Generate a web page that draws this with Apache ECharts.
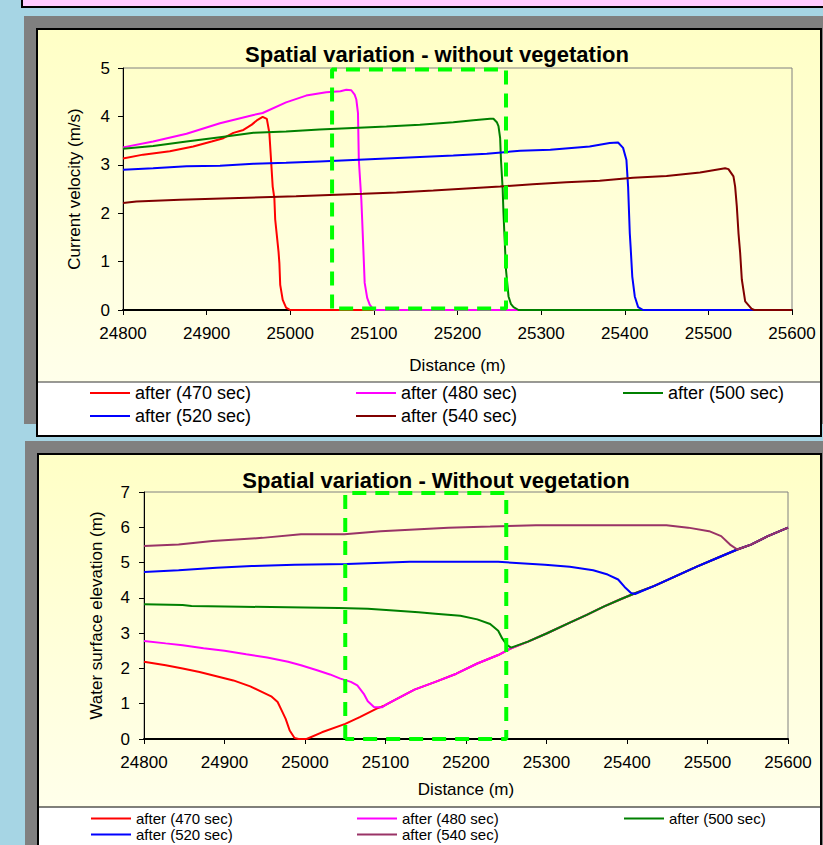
<!DOCTYPE html>
<html>
<head>
<meta charset="utf-8">
<script src="https://cdn.jsdelivr.net/npm/echarts@6/dist/echarts.min.js"></script>
<style>
html,body{margin:0;padding:0;background:#A6D5E4;}
#c{width:823px;height:845px;}
</style>
</head>
<body>
<div id="c"></div>
<script>
// ---------- data ----------
const seriesNames = ['after (470 sec)', 'after (480 sec)', 'after (500 sec)', 'after (520 sec)', 'after (540 sec)'];
const distanceTicks = [24800, 24900, 25000, 25100, 25200, 25300, 25400, 25500, 25600];

// Chart 1: current velocity (m/s) vs distance (m)
const vel470 = [[24800,3.13],[24824,3.21],[24856,3.28],[24884,3.38],[24906,3.48],[24920,3.55],[24932,3.66],[24944,3.72],[24954,3.83],[24961,3.93],[24967,3.99],[24972,3.95],[24975,3.66],[24977,3.11],[24979,2.55],[24981,2.31],[24982,1.87],[24986,1.2],[24987,0.97],[24988,0.52],[24991,0.21],[24995,0.05],[25000,0],[25600,0]];
const vel480 = [[24800,3.36],[24836,3.48],[24876,3.64],[24916,3.86],[24956,4.03],[24967,4.07],[24995,4.29],[25019,4.43],[25043,4.50],[25060,4.52],[25067,4.55],[25073,4.54],[25077,4.45],[25079,4.35],[25081,4.07],[25082,3.1],[25085,2.28],[25086,1.87],[25088,1.0],[25089,0.56],[25092,0.25],[25095,0.11],[25100,0],[25600,0]];
const vel500 = [[24800,3.33],[24836,3.39],[24876,3.48],[24916,3.57],[24956,3.66],[24995,3.69],[25035,3.73],[25075,3.76],[25115,3.79],[25155,3.83],[25195,3.88],[25219,3.92],[25239,3.95],[25243,3.95],[25247,3.88],[25249,3.80],[25251,3.55],[25252,3.1],[25254,2.5],[25255,2.0],[25256,1.6],[25258,0.83],[25261,0.28],[25264,0.12],[25267,0.06],[25273,0],[25600,0]];
const vel520 = [[24800,2.90],[24836,2.93],[24876,2.97],[24916,2.98],[24956,3.02],[24995,3.04],[25035,3.07],[25075,3.10],[25115,3.13],[25155,3.16],[25195,3.19],[25235,3.23],[25275,3.29],[25311,3.31],[25358,3.38],[25382,3.45],[25392,3.46],[25398,3.35],[25402,3.10],[25404,2.55],[25406,1.59],[25407,1.31],[25409,0.69],[25412,0.28],[25416,0.06],[25422,0],[25600,0]];
const vel540 = [[24800,2.21],[24816,2.24],[24868,2.28],[24928,2.31],[25007,2.35],[25087,2.40],[25127,2.43],[25171,2.47],[25211,2.51],[25251,2.55],[25290,2.60],[25330,2.64],[25370,2.67],[25410,2.73],[25450,2.77],[25490,2.84],[25520,2.93],[25524,2.91],[25530,2.76],[25532,2.55],[25534,2.14],[25536,1.59],[25538,1.18],[25540,0.63],[25544,0.18],[25552,0.02],[25555,0],[25600,0]];
const vegZoneVel = [[25050,0.03],[25050,4.97],[25258,4.97],[25258,0.03],[25050,0.03]];

// Chart 2: water surface elevation (m) vs distance (m)
const bedLine = [[25002,0],[25021,0.19],[25050,0.43],[25068,0.62],[25089,0.86],[25099,0.95],[25110,1.09],[25136,1.40],[25162,1.62],[25188,1.85],[25214,2.14],[25240,2.38],[25256,2.57],[25277,2.76],[25300,2.99],[25329,3.30],[25350,3.52],[25371,3.75],[25392,3.96],[25410,4.13],[25434,4.34],[25460,4.61],[25486,4.88],[25512,5.13],[25537,5.37],[25554,5.51],[25575,5.75],[25600,5.99]];
const elev470 = [[24800,2.19],[24827,2.09],[24848,2.00],[24869,1.90],[24890,1.78],[24911,1.66],[24932,1.49],[24947,1.33],[24958,1.21],[24966,1.05],[24971,0.81],[24976,0.57],[24981,0.24],[24987,0.03],[24992,0]];
const elev480 = [[24800,2.78],[24827,2.71],[24848,2.66],[24874,2.57],[24900,2.50],[24927,2.40],[24953,2.31],[24979,2.19],[24995,2.09],[25015,1.95],[25031,1.83],[25044,1.71],[25057,1.62],[25065,1.52],[25073,1.28],[25078,1.07],[25086,0.90],[25096,0.90]];
const elev500 = [[24800,3.82],[24848,3.80],[24859,3.77],[24921,3.75],[25042,3.71],[25078,3.69],[25110,3.64],[25141,3.59],[25162,3.55],[25193,3.49],[25214,3.39],[25230,3.26],[25240,3.07],[25245,2.85],[25251,2.66],[25256,2.59]];
const elev520 = [[24800,4.73],[24843,4.78],[24890,4.85],[24934,4.90],[24987,4.94],[25052,4.96],[25130,5.02],[25240,5.02],[25298,4.94],[25329,4.88],[25358,4.78],[25376,4.66],[25389,4.52],[25397,4.31],[25405,4.14],[25410,4.11]];
const elev540 = [[24800,5.47],[24843,5.51],[24885,5.61],[24947,5.70],[24995,5.80],[25049,5.80],[25094,5.89],[25136,5.94],[25178,5.99],[25230,6.02],[25287,6.06],[25449,6.06],[25476,5.99],[25502,5.89],[25517,5.75],[25528,5.51],[25537,5.37]];
const vegZoneElev = [[25050,0],[25050,6.97],[25250,6.97],[25250,0],[25050,0]];

// ---------- styling ----------
const FONT = '"Liberation Sans", Arial, sans-serif';
const colorsTop = ['#FF0000', '#FF00FF', '#008000', '#0000FF', '#800000'];
const colorsBottom = ['#FF0000', '#FF00FF', '#008000', '#0000FF', '#993366'];

function withBed(head) {
  const lastX = head[head.length - 1][0];
  return head.concat(bedLine.filter(p => p[0] > lastX));
}

const velData = [vel470, vel480, vel500, vel520, vel540];
const elevData = [elev470, elev480, elev500, elev520, elev540].map(withBed);

const chart = echarts.init(document.getElementById('c'), null, {renderer: 'svg', width: 823, height: 845});

function boxGrad() {
  return new echarts.graphic.LinearGradient(0, 0, 0, 1, [
    {offset: 0, color: '#FFFFC6'}, {offset: 1, color: '#FFFFF0'}
  ]);
}

function xAxis(gridIndex, nameGap) {
  return {
    type: 'value', gridIndex, min: distanceTicks[0], max: distanceTicks[distanceTicks.length - 1], interval: 100,
    name: 'Distance (m)', nameLocation: 'middle', nameGap,
    nameTextStyle: {fontSize: 17, color: '#000', fontFamily: FONT},
    axisLine: {show: true, onZero: false, lineStyle: {color: '#000', width: 2}},
    axisTick: {show: true, length: 5, lineStyle: {color: '#000', width: 1}},
    axisLabel: {fontSize: 17, color: '#000', fontFamily: FONT, margin: 15, showMinLabel: true, showMaxLabel: true,
      formatter: v => String(v)},
    splitLine: {show: false}
  };
}
function yAxis(gridIndex, max, name, nameGap, margin) {
  return {
    type: 'value', gridIndex, min: 0, max, interval: 1,
    name, nameLocation: 'middle', nameGap,
    nameTextStyle: {fontSize: 17, color: '#000', fontFamily: FONT},
    axisLine: {show: true, lineStyle: {color: '#000', width: 1}},
    axisTick: {show: true, length: 5, lineStyle: {color: '#000', width: 1}},
    axisLabel: {fontSize: 17, color: '#000', fontFamily: FONT, margin, formatter: v => String(v)},
    splitLine: {show: false}
  };
}

const series = [];
seriesNames.forEach((n, i) => {
  series.push({type: 'line', name: n, xAxisIndex: 0, yAxisIndex: 0, data: velData[i],
    showSymbol: false, symbol: 'none', clip: false, color: colorsTop[i],
    lineStyle: {color: colorsTop[i], width: 2}, z: 3});
});
seriesNames.forEach((n, i) => {
  series.push({type: 'line', name: n, xAxisIndex: 1, yAxisIndex: 1, data: elevData[i],
    showSymbol: false, symbol: 'none', clip: false, color: colorsBottom[i],
    lineStyle: {color: colorsBottom[i], width: 2}, z: 3});
});
series.push({type: 'line', name: 'zoneTop', xAxisIndex: 0, yAxisIndex: 0, data: vegZoneVel,
  showSymbol: false, symbol: 'none', clip: false, silent: true,
  lineStyle: {color: '#00FF00', width: 4, type: [14, 9]}, z: 4});
series.push({type: 'line', name: 'zoneBottom', xAxisIndex: 1, yAxisIndex: 1, data: vegZoneElev,
  showSymbol: false, symbol: 'none', clip: false, silent: true,
  lineStyle: {color: '#00FF00', width: 4, type: [14, 9]}, z: 4});

const legendPos = [[90, 0], [356, 0], [623, 0], [90, 1], [356, 1]];
const legends = [];
legendPos.forEach((p, i) => {
  legends.push({left: p[0], top: (p[1] ? 417 : 394) - 10, padding: 0, itemWidth: 40, itemHeight: 2,
    icon: 'rect', selectedMode: false,
    data: [{name: seriesNames[i], itemStyle: {color: colorsTop[i]}}],
    textStyle: {fontSize: 18, color: '#000', fontFamily: FONT}});
});
legendPos.forEach((p, i) => {
  legends.push({left: p[0] + 1, top: (p[1] ? 835 : 819) - 8, padding: 0, itemWidth: 40, itemHeight: 2,
    icon: 'rect', selectedMode: false,
    data: [{name: seriesNames[i], itemStyle: {color: colorsBottom[i]}}],
    textStyle: {fontSize: 15, color: '#000', fontFamily: FONT}});
});

const option = {
  animation: false,
  backgroundColor: '#A6D5E4',
  graphic: [
    {type: 'rect', z: -20, silent: true, shape: {x: 22, y: -10, width: 820, height: 17}, style: {fill: '#FFCCFF', stroke: '#000', lineWidth: 2}},
    {type: 'rect', z: -20, silent: true, shape: {x: 24, y: 16, width: 810, height: 408}, style: {fill: '#808080'}},
    {type: 'rect', z: -19, silent: true, shape: {x: 37, y: 29, width: 784, height: 407}, style: {fill: boxGrad()}},
    {type: 'rect', z: -18, silent: true, shape: {x: 37, y: 382, width: 784, height: 54}, style: {fill: '#FFFFFF', stroke: '#333', lineWidth: 1}},
    {type: 'rect', z: -17, silent: true, shape: {x: 37, y: 29, width: 784, height: 407}, style: {fill: 'none', stroke: '#000', lineWidth: 2}},
    {type: 'rect', z: -20, silent: true, shape: {x: 25, y: 441, width: 810, height: 420}, style: {fill: '#808080'}},
    {type: 'rect', z: -19, silent: true, shape: {x: 38, y: 454, width: 783, height: 410}, style: {fill: boxGrad()}},
    {type: 'rect', z: -18, silent: true, shape: {x: 38, y: 807, width: 783, height: 60}, style: {fill: '#FFFFFF', stroke: '#000', lineWidth: 1}},
    {type: 'rect', z: -17, silent: true, shape: {x: 38, y: 454, width: 783, height: 410}, style: {fill: 'none', stroke: '#000', lineWidth: 2}}
  ],
  title: [
    {text: 'Spatial variation - without vegetation', left: 437, top: 43, textAlign: 'center', padding: 0,
     textStyle: {fontSize: 22, fontWeight: 'bold', color: '#000', fontFamily: FONT}},
    {text: 'Spatial variation - Without vegetation', left: 436, top: 469, textAlign: 'center', padding: 0,
     textStyle: {fontSize: 22, fontWeight: 'bold', color: '#000', fontFamily: FONT}}
  ],
  legend: legends,
  grid: [
    {left: 123, top: 68, width: 669, height: 242, show: true, borderColor: '#808080', borderWidth: 1, backgroundColor: 'transparent'},
    {left: 144, top: 492, width: 644, height: 247, show: true, borderColor: '#808080', borderWidth: 1, backgroundColor: 'transparent'}
  ],
  xAxis: [xAxis(0, 47), xAxis(1, 42)],
  yAxis: [yAxis(0, 5, 'Current velocity (m/s)', 40, 13), yAxis(1, 7, 'Water surface elevation (m)', 39, 14)],
  series
};
chart.setOption(option);
</script>
</body>
</html>
